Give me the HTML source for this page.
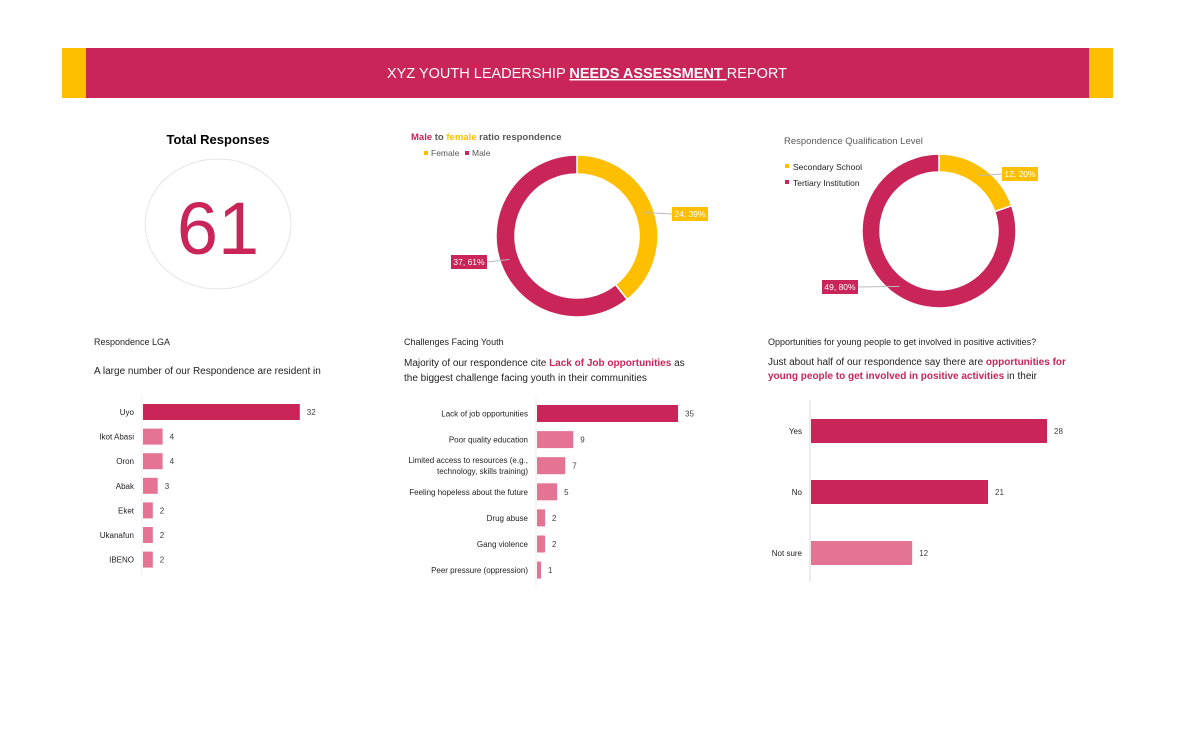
<!DOCTYPE html>
<html><head><meta charset="utf-8"><style>
body{margin:0;background:#fff;width:1200px;height:744px;overflow:hidden;font-family:"Liberation Sans",sans-serif}
svg text{font-family:"Liberation Sans",sans-serif}
</style></head><body>
<svg id="s" width="1200" height="744" viewBox="0 0 1200 744" xmlns="http://www.w3.org/2000/svg">
<rect x="62" y="48" width="24" height="50" fill="#fdbf00"/>
<rect x="86" y="48" width="1003" height="50" fill="#c92558"/>
<rect x="1089" y="48" width="24" height="50" fill="#fdbf00"/>
<text x="587" y="78" fill="#fff" font-size="14.5" text-anchor="middle">XYZ YOUTH LEADERSHIP <tspan font-weight="bold" text-decoration="underline">NEEDS ASSESSMENT </tspan>REPORT</text>

<text x="218" y="144" font-size="13" font-weight="bold" text-anchor="middle">Total Responses</text>
<ellipse cx="218" cy="224" rx="73" ry="65" fill="none" stroke="#e4e4e4"/>
<text x="218" y="254" font-size="74" fill="#c92558" text-anchor="middle">61</text>

<text x="411" y="140" font-size="9.5" font-weight="bold" fill="#595959"><tspan fill="#c92558">Male</tspan> to <tspan fill="#fdbf00">female</tspan> ratio respondence</text>
<rect x="424" y="151" width="4" height="4" fill="#fdbf00"/>
<text x="431" y="156" font-size="8.5" fill="#595959">Female</text>
<rect x="465" y="151" width="4" height="4" fill="#c92558"/>
<text x="472" y="156" font-size="8.5" fill="#595959">Male</text>
<g id="d1"></g>

<text x="784" y="144" font-size="9.5" fill="#595959">Respondence Qualification Level</text>
<rect x="785" y="164" width="4" height="4" fill="#fdbf00"/>
<text x="793" y="170" font-size="8.5" fill="#222">Secondary  School</text>
<rect x="785" y="180" width="4" height="4" fill="#c92558"/>
<text x="793" y="186" font-size="8.5" fill="#222">Tertiary Institution</text>
<g id="d2"></g>

<text x="94" y="345" font-size="9" fill="#222">Respondence LGA</text>
<text x="94" y="374" font-size="10" fill="#222">A large number of our Respondence are resident in</text>
<text x="404" y="345" font-size="9" fill="#222">Challenges Facing Youth</text>
<text x="404" y="366" font-size="10" fill="#222">Majority of our respondence cite <tspan fill="#c92558" font-weight="bold">Lack of Job opportunities</tspan> as</text>
<text x="404" y="381" font-size="10" fill="#222">the biggest challenge facing youth in their communities</text>
<text x="768" y="345" font-size="9" fill="#222">Opportunities for young people to get involved in positive activities?</text>
<text x="768" y="365" font-size="10" fill="#222">Just about half of our respondence say there are <tspan fill="#c92558" font-weight="bold">opportunities for</tspan></text>
<text x="768" y="379" font-size="10" fill="#222"><tspan fill="#c92558" font-weight="bold">young people to get involved in positive activities</tspan> in their</text>
<g id="b1"></g><g id="b2"></g><g id="b3"></g>
</svg>
<script>
const genderLabels=["Female","Male"];
const genderValues=[24,37];
const qualLabels=["Secondary School","Tertiary Institution"];
const qualValues=[12,49];
const lgaCats=["Uyo","Ikot Abasi","Oron","Abak","Eket","Ukanafun","IBENO"];
const lgaVals=[32,4,4,3,2,2,2];
const chCats=[["Lack of job opportunities"],["Poor quality education"],["Limited access to resources (e.g.,","technology, skills training)"],["Feeling hopeless about the future"],["Drug abuse"],["Gang violence"],["Peer pressure (oppression)"]];
const chVals=[35,9,7,5,2,2,1];
const opCats=["Yes","No","Not sure"];
const opVals=[28,21,12];
const CR="#c92558",YL="#fdbf00",PK="#e57393";
const NS="http://www.w3.org/2000/svg";
function mk(p,tag,at){const e=document.createElementNS(NS,tag);for(const k in at)e.setAttribute(k,at[k]);p.appendChild(e);return e;}
function donut(g,vals,cx,cy,ro,ri,labPos,name){
  const tot=vals.reduce((a,b)=>a+b,0);let a0=0;const cols=[YL,CR];
  vals.forEach((v,i)=>{
    const a1=a0+v/tot*2*Math.PI;
    const P=(r,a)=>[cx+r*Math.sin(a),cy-r*Math.cos(a)];
    const la=(a1-a0)>Math.PI?1:0;
    const [x1,y1]=P(ro,a0),[x2,y2]=P(ro,a1),[x3,y3]=P(ri,a1),[x4,y4]=P(ri,a0);
    const p=mk(g,"path",{d:`M${x1},${y1}A${ro},${ro} 0 ${la} 1 ${x2},${y2}L${x3},${y3}A${ri},${ri} 0 ${la} 0 ${x4},${y4}Z`,fill:cols[i],stroke:"#fff","stroke-width":1.5});
    
    
    const am=(a0+a1)/2;const [mx,my]=P((ro+ri)/2,am);
    const lp=labPos[i];const pct=Math.round(v/tot*100);
    const txt=v+", "+pct+"%";const w=36;
    mk(g,"line",{x1:mx,y1:my,x2:lp[0]<cx?lp[0]+w:lp[0],y2:lp[1],stroke:"#bbb","stroke-width":1});
    const r=mk(g,"rect",{x:lp[0],y:lp[1]-7,width:w,height:14,fill:cols[i]});
    
    
    const t=mk(g,"text",{x:lp[0]+w/2,y:lp[1]+3,"font-size":8.5,fill:"#fff","text-anchor":"middle"});t.textContent=txt;
    
    
    a0=a1;
  });
}
donut(document.getElementById("d1"),genderValues,577,236,81,62,[[672,214],[451,262]],"gender-donut");
donut(document.getElementById("d2"),qualValues,939,231,77,59,[[1002,174],[822,287]],"qualification-donut");
function bars(g,cats,vals,x0,scale,y0,step,bh,colors,name,axisLine){
  if(axisLine){const l=mk(g,"line",{x1:x0,y1:axisLine[0],x2:x0,y2:axisLine[1],stroke:"#d9d9d9"});}
  else{const l=mk(g,"line",{x1:x0,y1:y0-bh,x2:x0,y2:y0+step*(cats.length-1)+bh,stroke:"#eee"});}
  vals.forEach((v,i)=>{
    const cy=y0+i*step;const w=v*scale;
    const r=mk(g,"rect",{x:x0+1,y:cy-bh/2,width:w,height:bh,fill:colors(i)});
    
    
    const vt=mk(g,"text",{x:x0+w+8,y:cy+3,"font-size":8,fill:"#404040"});vt.textContent=v;
    
    
    const c=cats[i];const lines=Array.isArray(c)?c:[c];
    lines.forEach((ln,j)=>{
      const t=mk(g,"text",{x:x0-8,y:cy+3+(j-(lines.length-1)/2)*11,"font-size":8,fill:"#222","text-anchor":"end"});t.textContent=ln;
      
      
    });
  });
}
bars(document.getElementById("b1"),lgaCats,lgaVals,142,4.9,412,24.6,16,i=>i==0?CR:PK,"lga");
bars(document.getElementById("b2"),chCats,chVals,536,4.03,413.5,26.1,17,i=>i==0?CR:PK,"challenges");
bars(document.getElementById("b3"),opCats,opVals,810,8.43,431,61,24,i=>i<2?CR:PK,"opportunities",[400,582]);
</script>
</body></html>
